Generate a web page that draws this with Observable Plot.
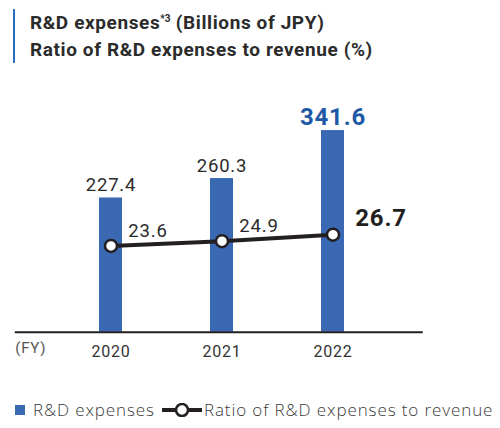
<!DOCTYPE html>
<html>
<head>
<meta charset="utf-8">
<script src="https://cdn.jsdelivr.net/npm/d3@7"></script>
<script src="https://cdn.jsdelivr.net/npm/@observablehq/plot@0.6"></script>
<style>
  html, body { margin: 0; padding: 0; background: #fff; }
  body { width: 500px; height: 428px; position: relative; overflow: hidden; font-family: Roboto, "Noto Sans", sans-serif; }
  #title { position: absolute; left: 13px; top: 9px; border-left: 2px solid #2a6ebd; padding-left: 15px; color: #2b2b2b; font-weight: 700; font-size: 19px; line-height: 27px; letter-spacing: 0.6px; white-space: nowrap; }
  #title sup { font-size: 10px; vertical-align: 7px; line-height: 0; letter-spacing: 0; }
  #chart { position: absolute; left: 0; top: 75px; }
  #legend { position: absolute; left: 15px; top: 398px; font-size: 17px; color: #3a3a3a; display: flex; align-items: center; white-space: nowrap; font-family: "Open Sans", Roboto, sans-serif; font-weight: 300; letter-spacing: 0.9px; }
  #legend .sq { width: 10px; height: 10px; background: #3a68b3; display: inline-block; margin-right: 8px; }
  #legend svg { margin: 0 2px 0 7px; }
</style>
</head>
<body>
<div id="title">R&amp;D expenses<sup>*3</sup> (Billions of JPY)<br>Ratio of R&amp;D expenses to revenue (%)</div>
<div id="chart"></div>
<div id="legend"><span class="sq"></span><span>R&amp;D expenses</span><svg width="40" height="14"><line x1="0" y1="7" x2="40" y2="7" stroke="#231f20" stroke-width="4"/><circle cx="20" cy="7" r="6" fill="#fff" stroke="#231f20" stroke-width="2.5"/></svg><span>Ratio of R&amp;D expenses to revenue</span></div>
<script>
const years = ["2020", "2021", "2022"];
const expenses = [227.4, 260.3, 341.6];
const ratios = [23.6, 24.9, 26.7];
const ratioScale = 6.19; // maps ratio % onto the expense axis (secondary axis)

const data = years.map((y, i) => ({year: y, expense: expenses[i], ratio: ratios[i], latest: i === years.length - 1}));

const blue = "#3a68b3";
const dark = "#231f20";

const plot = Plot.plot({
  width: 500,
  height: 300,
  marginLeft: 54.25,
  marginRight: 111.25,
  marginTop: 20.6,
  marginBottom: 43.3,
  style: {fontFamily: "Roboto, 'Noto Sans', sans-serif", background: "transparent", letterSpacing: "0.8px"},
  x: {domain: years, paddingInner: 0.79, paddingOuter: 0.395, label: null},
  y: {domain: [0, 400], axis: null},
  marks: [
    Plot.barY(data, {x: "year", y: "expense", fill: blue}),
    Plot.ruleY([0], {stroke: dark, strokeWidth: 2, insetLeft: -39.5, insetRight: -34}),
    Plot.axisX({tickSize: 0, tickPadding: 13, fontSize: 16, fill: "#333", label: null}),
    Plot.text(["(FY)"], {frameAnchor: "bottom-left", dx: -39.5, dy: 21, textAnchor: "start", fontSize: 15, fill: "#555"}),
    Plot.text(data.filter(d => !d.latest), {x: "year", y: "expense", text: d => d.expense.toFixed(1), lineAnchor: "bottom", dy: -7, fontSize: 18.5, fill: "#2b2b2b"}),
    Plot.text(data.filter(d => d.latest), {x: "year", y: "expense", text: d => d.expense.toFixed(1), lineAnchor: "bottom", dy: -6, fontSize: 24, fontWeight: 700, fill: "#1f5aa6"}),
    Plot.lineY(data, {x: "year", y: d => d.ratio * ratioScale, stroke: dark, strokeWidth: 4}),
    Plot.dot(data, {x: "year", y: d => d.ratio * ratioScale, r: 6, fill: "#fff", stroke: dark, strokeWidth: 2.5}),
    Plot.text(data.filter(d => !d.latest), {x: "year", y: d => d.ratio * ratioScale, text: d => d.ratio.toFixed(1), lineAnchor: "bottom", dx: 37, dy: -9, fontSize: 18.5, fill: "#2b2b2b"}),
    Plot.text(data.filter(d => d.latest), {x: "year", y: d => d.ratio * ratioScale, text: d => d.ratio.toFixed(1), lineAnchor: "bottom", dx: 48, dy: -9, fontSize: 24, fontWeight: 700, fill: "#231f20"})
  ]
});
document.getElementById("chart").appendChild(plot);
</script>
</body>
</html>
